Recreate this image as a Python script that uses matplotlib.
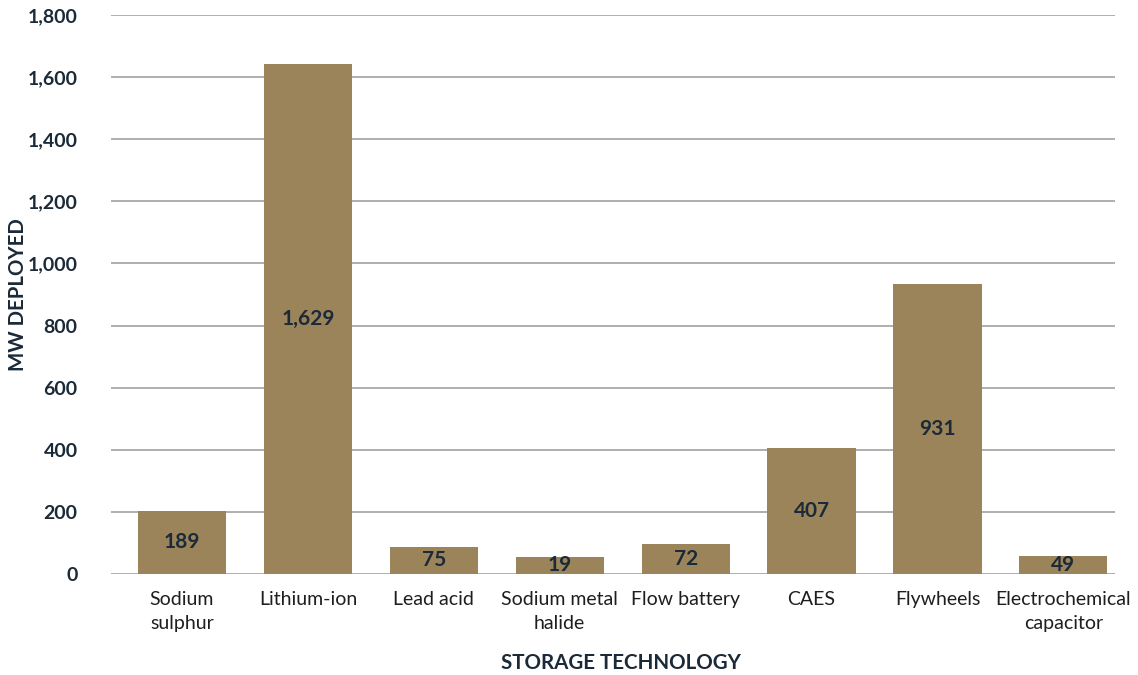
import matplotlib

matplotlib.use("Agg")
import matplotlib.pyplot as plt
import numpy as np

plt.rcParams["font.family"] = ["Lato", "DejaVu Sans"]

categories = [
    "Sodium\nsulphur",
    "Lithium-ion",
    "Lead acid",
    "Sodium metal\nhalide",
    "Flow battery",
    "CAES",
    "Flywheels",
    "Electrochemical\ncapacitor",
]
# bar heights as drawn in the source chart
bar_heights = [203, 1642, 87, 55, 97, 406, 934, 58]
# value labels printed on the bars
label_values = [189, 1629, 75, 19, 72, 407, 931, 49]

BAR = "#9c845a"
INK = "#1b2a38"

fig = plt.figure(figsize=(11.38, 6.75), dpi=100)
ax = fig.add_axes([111 / 1138, 1 - 574 / 675, (1115 - 111) / 1138, (574 - 15) / 675])

x = np.arange(len(categories))
ax.bar(x, bar_heights, width=0.7, color=BAR, zorder=2)
for xi, h, v in zip(x, bar_heights, label_values):
    ax.text(xi, h / 2, f"{v:,}", ha="center", va="center", fontsize=15,
            fontweight="bold", color=INK, zorder=3)

ax.set_xlim(-0.564, 7.41)
ax.set_ylim(0, 1800)
ax.set_yticks(np.arange(0, 1801, 200))
ax.set_yticklabels([f"{t:,}" for t in range(0, 1801, 200)], fontsize=14,
                   fontweight="bold", color=INK)
ax.set_xticks(x)
ax.set_xticklabels(categories, fontsize=14, color="#1e1e1e", linespacing=1.55)
ax.tick_params(axis="both", length=0)
ax.tick_params(axis="y", pad=24)
ax.tick_params(axis="x", pad=12)
ax.yaxis.grid(True, color="#a8a8a8", linewidth=1.3, zorder=0)
for s in ax.spines.values():
    s.set_visible(False)

fig.text(18 / 1138, 1 - 295 / 675, "MW DEPLOYED", rotation=90, ha="center",
         va="center", fontsize=14.7, fontweight="bold", color=INK)
fig.text(621 / 1138, 1 - 663 / 675, "STORAGE TECHNOLOGY", ha="center",
         va="center", fontsize=14.8, fontweight="bold", color=INK)

fig.savefig("out.png", dpi=100)
plt.close(fig)
